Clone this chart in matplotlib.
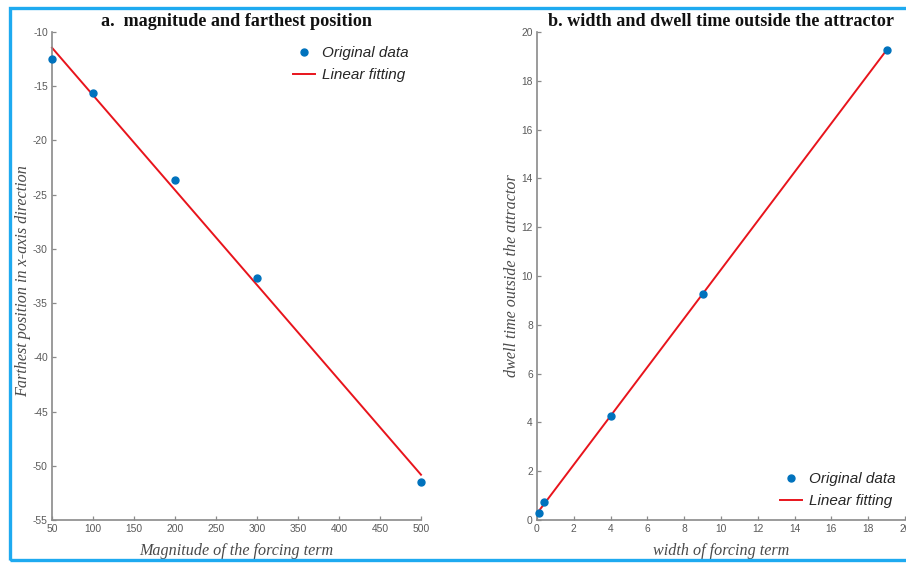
import matplotlib
matplotlib.use("Agg")
import matplotlib.pyplot as plt
import numpy as np
from matplotlib.patches import Rectangle

plt.rcParams['axes.unicode_minus'] = False

# panel a: magnitude of forcing term vs farthest position
magnitude = [50, 100, 200, 300, 500]
farthest = [-12.5, -15.65, -23.65, -32.7, -51.5]

# panel b: width of forcing term vs dwell time
width = [0.1, 0.4, 4, 9, 19]
dwell = [0.28, 0.75, 4.27, 9.28, 19.25]

xticks_a = np.arange(50, 501, 50)
yticks_a = np.arange(-55, -9, 5)
xticks_b = np.arange(0, 21, 2)
yticks_b = np.arange(0, 21, 2)

dotColor = '#0072BD'
lineColor = '#E8141C'
spineColor = '#8a8a8a'
tickColor = '#5a5a5a'
labelColor = '#4a4a4a'

fig = plt.figure(figsize=(9.06, 5.64), dpi=100)
axA = fig.add_axes([52/906, 1-520/564, 369/906, 488/564])
axB = fig.add_axes([537/906, 1-520/564, 368/906, 488/564])


def style(ax, xt, yt):
	for s in ['top', 'right']:
		ax.spines[s].set_visible(False)
	for s in ['left', 'bottom']:
		ax.spines[s].set_color(spineColor)
		ax.spines[s].set_linewidth(1.2)
	ax.set_xticks(xt)
	ax.set_yticks(yt)
	ax.tick_params(direction='in', length=3, width=0.9, color=spineColor,
				   labelsize=7.4, labelcolor=tickColor, pad=3)
	for lab in ax.get_xticklabels() + ax.get_yticklabels():
		lab.set_family('Liberation Sans')


def fitLine(ax, x, y):
	p = np.polyfit(x, y, 1)
	xs = np.array([min(x), max(x)])
	ax.plot(x, y, 'o', color=dotColor, markersize=5, label='Original data', zorder=3, clip_on=False)
	ax.plot(xs, np.polyval(p, xs), '-', color=lineColor, lw=1.4, label='Linear fitting', zorder=2, clip_on=False)


titleFont = dict(family='Liberation Serif', weight='bold', size=13.1, color='#111111')
labelFont = dict(family='Liberation Serif', style='italic', size=11.6, color=labelColor)
legendFont = dict(family='Liberation Sans', style='italic', size=11)
legendOpts = dict(frameon=False, prop=legendFont, handlelength=1.45, labelspacing=0.55,
				  handletextpad=0.45, borderaxespad=0.0, borderpad=0.0)

# panel a
fitLine(axA, magnitude, farthest)
axA.set_xlim(50, 500)
axA.set_ylim(-55, -10)
style(axA, xticks_a, yticks_a)
axA.set_title('a.  magnitude and farthest position', fontdict=titleFont, pad=4)
axA.set_xlabel('Magnitude of the forcing term', fontdict=labelFont)
axA.set_ylabel('Farthest position in x-axis direction', fontdict=labelFont)
axA.xaxis.set_label_coords(0.5, -0.047)
axA.yaxis.set_label_coords(-0.0565, 0.49)
leg = axA.legend(loc='upper left', bbox_to_anchor=((293-52)/369, (520-46)/488), **legendOpts)
for t in leg.get_texts():
	t.set_color('#262626')

# panel b
fitLine(axB, width, dwell)
axB.set_xlim(0, 20)
axB.set_ylim(0, 20)
style(axB, xticks_b, yticks_b)
axB.set_title('b. width and dwell time outside the attractor', fontdict=titleFont, pad=4)
axB.set_xlabel('width of forcing term', fontdict=labelFont)
axB.set_ylabel('dwell time outside the attractor', fontdict=labelFont)
axB.xaxis.set_label_coords(0.5, -0.047)
axB.yaxis.set_label_coords(-0.046, 0.5)
leg = axB.legend(loc='upper left', bbox_to_anchor=((780-537)/368, (520-472)/488), **legendOpts)
for t in leg.get_texts():
	t.set_color('#262626')

# blue frame round the figure (right side cropped off in the original)
fig.patches.append(Rectangle((10/906, 4/564), 1.2, 552/564, fill=False,
							 edgecolor='#1EAAF0', lw=2.4, transform=fig.transFigure))

fig.savefig('out.png', dpi=100)
